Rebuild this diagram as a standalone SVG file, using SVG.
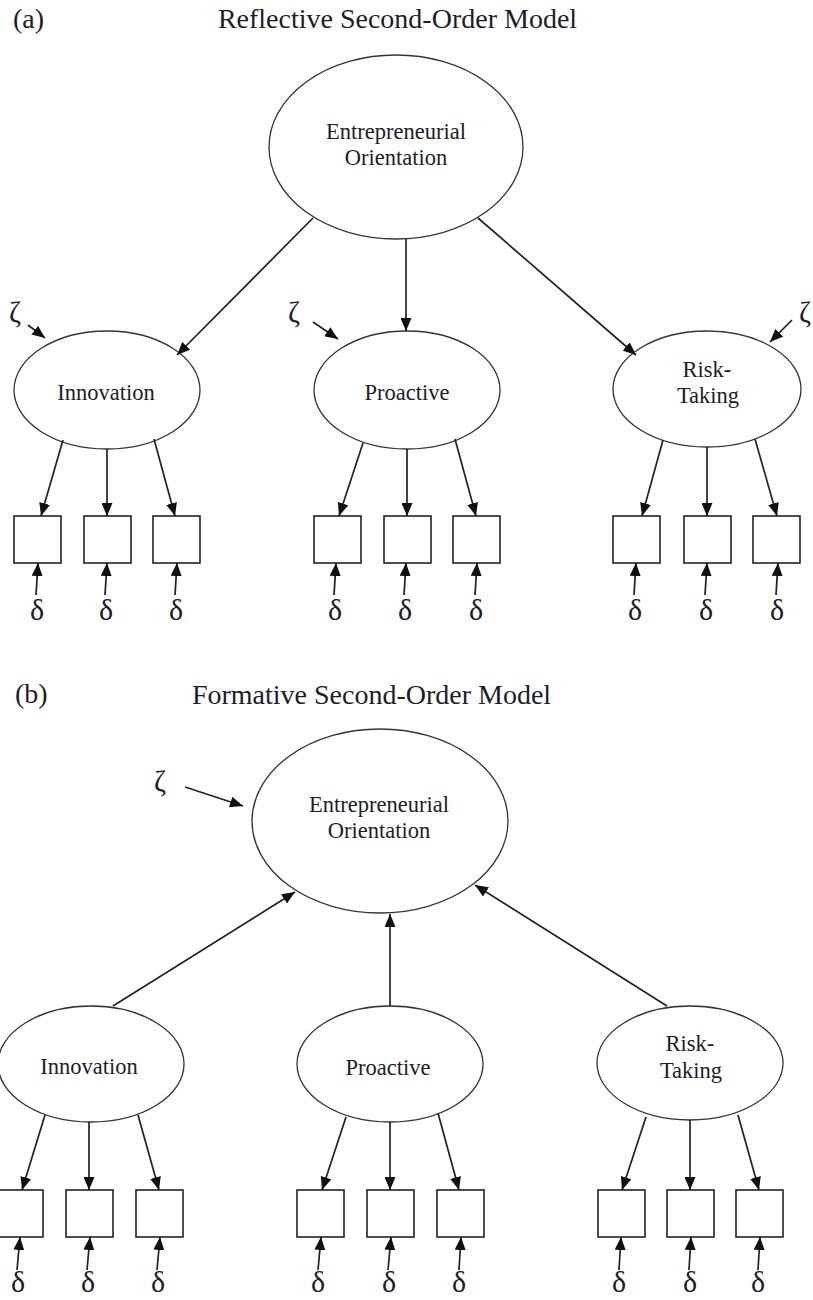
<svg xmlns="http://www.w3.org/2000/svg" width="813" height="1300" viewBox="0 0 813 1300">
<defs>
<marker id="ah" viewBox="0 0 13 11" refX="13" refY="5.5" markerWidth="13" markerHeight="11" markerUnits="userSpaceOnUse" orient="auto"><path d="M0,0 L13,5.5 L0,11 z" fill="#111"/></marker>
<style>
text{font-family:"Liberation Serif","Times New Roman",serif;fill:#1c1c2c}
.ttl{font-size:28px}
.lbl{font-size:22.5px;text-anchor:middle}
.gr{font-size:30px;text-anchor:middle}
.z{font-size:29px}
ellipse{fill:#fff;stroke:#333;stroke-width:1.3}
rect{fill:#fff;stroke:#222;stroke-width:1.6}
.c line{stroke:#222;stroke-width:1.7;marker-end:url(#ah)}
</style>
</defs>
<rect x="0" y="0" width="813" height="1300" style="fill:#fff;stroke:none"/>
<!-- Panel (a) -->
<text class="ttl" x="13" y="28">(a)</text>
<text class="ttl" x="397.5" y="28" text-anchor="middle">Reflective Second-Order Model</text>

<g id="a-eo"><ellipse cx="396" cy="147" rx="127" ry="92"/><text class="lbl" x="396" y="139">Entrepreneurial</text><text class="lbl" x="396" y="165">Orientation</text></g>
<g id="a-innovation"><ellipse cx="107" cy="390" rx="93" ry="59"/><text class="lbl" x="106" y="400">Innovation</text></g>
<g id="a-proactive"><ellipse cx="407" cy="390" rx="93" ry="59"/><text class="lbl" x="407" y="400">Proactive</text></g>
<g id="a-risk"><ellipse cx="707" cy="389" rx="94" ry="58"/><text class="lbl" x="707" y="377">Risk-</text><text class="lbl" x="708" y="403">Taking</text></g>

<g id="a-items">
<rect x="14" y="516" width="47" height="47"/><rect x="84" y="516" width="47" height="47"/><rect x="153" y="516" width="47" height="47"/>
<rect x="314" y="516" width="47" height="47"/><rect x="384" y="516" width="47" height="47"/><rect x="453" y="516" width="47" height="47"/>
<rect x="613" y="516" width="47" height="47"/><rect x="684" y="516" width="47" height="47"/><rect x="753" y="516" width="47" height="47"/>
</g>
<g id="a-errors">
<text class="z" x="9" y="322">ζ</text>
<text class="z" x="288" y="322">ζ</text>
<text class="z" x="799" y="322">ζ</text>
<text class="gr" x="37" y="620">δ</text><text class="gr" x="106" y="620">δ</text><text class="gr" x="176" y="620">δ</text>
<text class="gr" x="335" y="620">δ</text><text class="gr" x="405" y="620">δ</text><text class="gr" x="476" y="620">δ</text>
<text class="gr" x="635" y="620">δ</text><text class="gr" x="706" y="620">δ</text><text class="gr" x="777" y="620">δ</text>
</g>

<g id="a-connectors" class="c">
<line x1="313" y1="218" x2="177" y2="355"/>
<line x1="406" y1="239" x2="406" y2="331"/>
<line x1="478" y1="218" x2="636" y2="355"/>
<line x1="28" y1="325" x2="45" y2="338"/>
<line x1="313" y1="322" x2="338" y2="339"/>
<line x1="792" y1="320" x2="770" y2="342"/>
<line x1="63" y1="440" x2="41" y2="516"/>
<line x1="107" y1="449" x2="107" y2="516"/>
<line x1="154" y1="439" x2="175" y2="516"/>
<line x1="363" y1="443" x2="339" y2="516"/>
<line x1="407" y1="449" x2="407" y2="516"/>
<line x1="455" y1="439" x2="476" y2="516"/>
<line x1="663" y1="440" x2="642" y2="516"/>
<line x1="707" y1="447" x2="707" y2="516"/>
<line x1="755" y1="439" x2="777" y2="516"/>
<line x1="36" y1="595" x2="38" y2="563"/>
<line x1="105" y1="595" x2="107" y2="563"/>
<line x1="175" y1="595" x2="177" y2="563"/>
<line x1="334" y1="595" x2="336" y2="563"/>
<line x1="404" y1="595" x2="406" y2="563"/>
<line x1="475" y1="595" x2="477" y2="563"/>
<line x1="634" y1="595" x2="636" y2="563"/>
<line x1="705" y1="595" x2="707" y2="563"/>
<line x1="776" y1="595" x2="778" y2="563"/>
</g>

<!-- Panel (b) -->
<text class="ttl" x="15" y="703">(b)</text>
<text class="ttl" x="371.5" y="704" text-anchor="middle">Formative Second-Order Model</text>

<g id="b-eo"><ellipse cx="380" cy="821" rx="128" ry="92"/><text class="lbl" x="379" y="812">Entrepreneurial</text><text class="lbl" x="379" y="838">Orientation</text></g>
<g id="b-innovation"><ellipse cx="91" cy="1064" rx="93" ry="58"/><text class="lbl" x="89" y="1074">Innovation</text></g>
<g id="b-proactive"><ellipse cx="390" cy="1064" rx="93" ry="58"/><text class="lbl" x="388" y="1075">Proactive</text></g>
<g id="b-risk"><ellipse cx="690" cy="1063" rx="93" ry="57"/><text class="lbl" x="690" y="1051">Risk-</text><text class="lbl" x="691" y="1078">Taking</text></g>

<g id="b-items">
<rect x="-4" y="1190" width="47" height="47"/><rect x="66" y="1190" width="47" height="47"/><rect x="136" y="1190" width="47" height="47"/>
<rect x="297" y="1190" width="47" height="47"/><rect x="367" y="1190" width="47" height="47"/><rect x="437" y="1190" width="47" height="47"/>
<rect x="598" y="1190" width="47" height="47"/><rect x="667" y="1190" width="47" height="47"/><rect x="736" y="1190" width="47" height="47"/>
</g>
<g id="b-errors">
<text class="z" x="154" y="791">ζ</text>
<text class="gr" x="18" y="1292">δ</text><text class="gr" x="88" y="1292">δ</text><text class="gr" x="158" y="1292">δ</text>
<text class="gr" x="318" y="1292">δ</text><text class="gr" x="389" y="1292">δ</text><text class="gr" x="459" y="1292">δ</text>
<text class="gr" x="619" y="1292">δ</text><text class="gr" x="690" y="1292">δ</text><text class="gr" x="758" y="1292">δ</text>
</g>

<g id="b-connectors" class="c">
<line x1="113" y1="1006" x2="295" y2="892"/>
<line x1="390" y1="1006" x2="390" y2="914"/>
<line x1="667" y1="1006" x2="475" y2="885"/>
<line x1="185" y1="787" x2="243" y2="806"/>
<line x1="45" y1="1115" x2="22" y2="1190"/>
<line x1="89" y1="1122" x2="89" y2="1190"/>
<line x1="138" y1="1115" x2="159" y2="1190"/>
<line x1="346" y1="1117" x2="322" y2="1190"/>
<line x1="390" y1="1122" x2="390" y2="1190"/>
<line x1="438" y1="1113" x2="459" y2="1190"/>
<line x1="646" y1="1117" x2="622" y2="1190"/>
<line x1="690" y1="1120" x2="690" y2="1190"/>
<line x1="738" y1="1115" x2="759" y2="1190"/>
<line x1="17" y1="1270" x2="20" y2="1237"/>
<line x1="87" y1="1270" x2="90" y2="1237"/>
<line x1="157" y1="1270" x2="160" y2="1237"/>
<line x1="318" y1="1270" x2="321" y2="1237"/>
<line x1="388" y1="1270" x2="391" y2="1237"/>
<line x1="459" y1="1270" x2="461" y2="1237"/>
<line x1="619" y1="1270" x2="621" y2="1237"/>
<line x1="689" y1="1270" x2="691" y2="1237"/>
<line x1="758" y1="1270" x2="760" y2="1237"/>
</g>
</svg>
